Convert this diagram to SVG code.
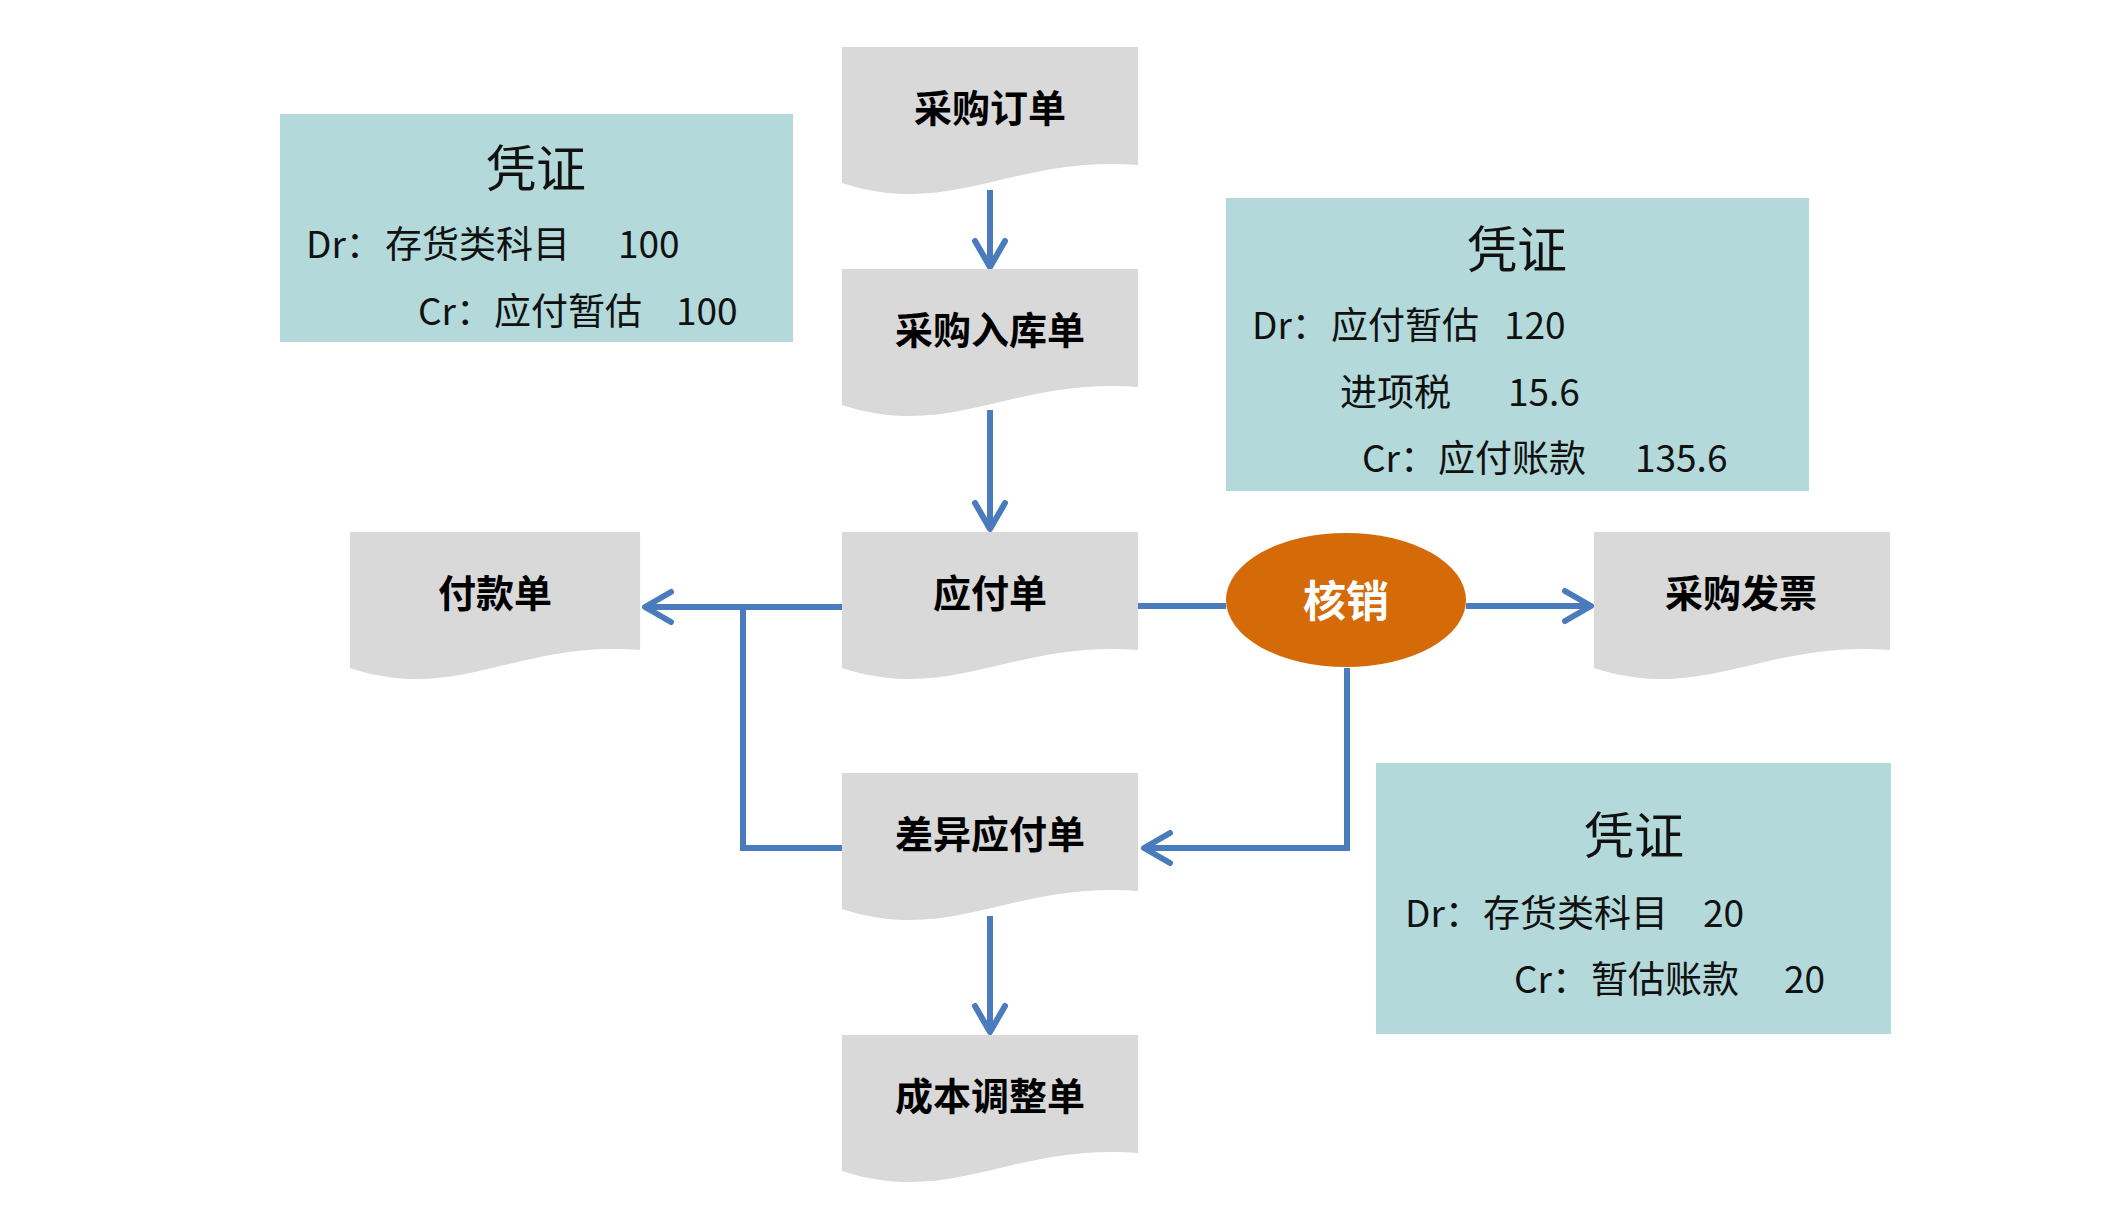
<svg xmlns="http://www.w3.org/2000/svg" width="2122" height="1221" viewBox="0 0 2122 1221">
<defs>
<style>
.doc{fill:#D9D9D9}
.lbl{font-family:"Noto Sans CJK SC","Noto Sans",sans-serif;font-weight:700;font-size:38px;fill:#000;text-anchor:middle}
.vbox{fill:#B3D9DA}
.vt{font-family:"Noto Sans CJK SC","Liberation Sans",sans-serif;font-size:50px;fill:#111;text-anchor:middle}
.vl{font-family:"Noto Sans CJK SC","Liberation Sans",sans-serif;font-size:37px;fill:#111}
.conn{fill:none;stroke:#4A7BBD;stroke-width:6}
.oval{fill:#D46B08}
.ovt{font-family:"Noto Sans CJK SC","Noto Sans",sans-serif;font-weight:700;font-size:43px;fill:#fff;text-anchor:middle}
</style>
<path id="docshape" d="M0,0 H296 V118 C170,108 110,172 0,136 Z"/>
<marker id="arr" markerUnits="userSpaceOnUse" markerWidth="40" markerHeight="40" viewBox="0 0 40 40" refX="36" refY="20" orient="auto">
<path d="M10,5 L36,20 L10,35" fill="none" stroke="#4A7BBD" stroke-width="6" stroke-linecap="round" stroke-linejoin="round"/>
</marker>
</defs>
<rect width="2122" height="1221" fill="#fff"/>

<g id="connectors">
<path class="conn" d="M990,190 V267" marker-end="url(#arr)"/>
<path class="conn" d="M990,410 V529" marker-end="url(#arr)"/>
<path class="conn" d="M842,607 H645" marker-end="url(#arr)"/>
<path class="conn" d="M842,848 H743 V607"/>
<path class="conn" d="M1138,606 H1226"/>
<path class="conn" d="M1466,606 H1591" marker-end="url(#arr)"/>
<path class="conn" d="M1347,668 V848 H1144" marker-end="url(#arr)"/>
<path class="conn" d="M990,916 V1032" marker-end="url(#arr)"/>
</g>

<g id="voucher1">
<rect class="vbox" x="280" y="114" width="513" height="228"/>
<text class="vt" x="536" y="187">凭证</text>
<text class="vl" y="258"><tspan x="306">Dr：</tspan><tspan x="385">存货类科目 </tspan><tspan x="618">100</tspan></text>
<text class="vl" y="325"><tspan x="418">Cr：</tspan><tspan x="494">应付暂估 </tspan><tspan x="676">100</tspan></text>
</g>

<g id="voucher2">
<rect class="vbox" x="1226" y="198" width="583" height="293"/>
<text class="vt" x="1517" y="268">凭证</text>
<text class="vl" y="339"><tspan x="1252">Dr：</tspan><tspan x="1331">应付暂估 </tspan><tspan x="1504">120</tspan></text>
<text class="vl" y="406"><tspan x="1340">进项税 </tspan><tspan x="1508">15.6</tspan></text>
<text class="vl" y="472"><tspan x="1362">Cr：</tspan><tspan x="1438">应付账款 </tspan><tspan x="1635">135.6</tspan></text>
</g>

<g id="voucher3">
<rect class="vbox" x="1376" y="763" width="515" height="271"/>
<text class="vt" x="1634" y="854">凭证</text>
<text class="vl" y="927"><tspan x="1405">Dr：</tspan><tspan x="1483">存货类科目 </tspan><tspan x="1703">20</tspan></text>
<text class="vl" y="993"><tspan x="1514">Cr：</tspan><tspan x="1591">暂估账款 </tspan><tspan x="1784">20</tspan></text>
</g>

<g id="n-purchase-order">
<use href="#docshape" class="doc" x="842" y="47"/>
<text class="lbl" x="990" y="122">采购订单</text>
</g>
<g id="n-receipt">
<use href="#docshape" class="doc" x="842" y="269"/>
<text class="lbl" x="990" y="344">采购入库单</text>
</g>
<g id="n-payable">
<use href="#docshape" class="doc" x="842" y="532"/>
<text class="lbl" x="990" y="607">应付单</text>
</g>
<g id="n-payment">
<use href="#docshape" class="doc" transform="translate(350,532) scale(0.98,1)"/>
<text class="lbl" x="495" y="607">付款单</text>
</g>
<g id="n-invoice">
<use href="#docshape" class="doc" x="1594" y="532"/>
<text class="lbl" x="1741" y="607">采购发票</text>
</g>
<g id="n-diff-payable">
<use href="#docshape" class="doc" x="842" y="773"/>
<text class="lbl" x="990" y="848">差异应付单</text>
</g>
<g id="n-cost-adjust">
<use href="#docshape" class="doc" x="842" y="1035"/>
<text class="lbl" x="990" y="1110">成本调整单</text>
</g>
<g id="n-writeoff">
<ellipse class="oval" cx="1346" cy="600" rx="120" ry="67"/>
<text class="ovt" x="1346" y="617">核销</text>
</g>
</svg>
